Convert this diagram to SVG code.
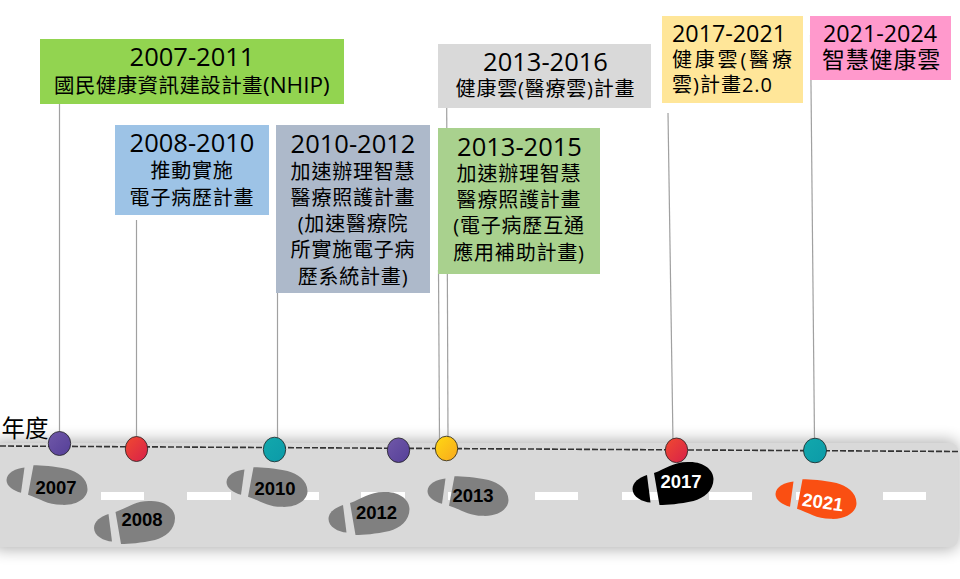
<svg xmlns="http://www.w3.org/2000/svg" width="960" height="579" viewBox="0 0 960 579">
<style>
text{font-family:"Open Sans","Noto Sans CJK TC",sans-serif;fill:#000;text-anchor:middle}
.y{font-size:25.500px}
.y2{font-size:23.300px}
.t{font-size:20px;letter-spacing:.8px}
.yr{font-family:"Liberation Sans",sans-serif;font-weight:700;font-size:18.500px}
.c{stroke:#a0a0a0;stroke-width:1.200;fill:none}
.n{stroke:#222;stroke-width:.8}
.d{fill:#fff}
</style>
<defs>
<filter id="sh" x="-5%" y="-40%" width="110%" height="180%"><feGaussianBlur stdDeviation="8"/></filter>
<linearGradient id="gp" x1="0" y1="0" x2="1" y2="1"><stop offset="0" stop-color="#7058a8"/><stop offset="1" stop-color="#553f98"/></linearGradient>
<linearGradient id="gr" x1="0" y1="0" x2="1" y2="1"><stop offset="0" stop-color="#f04a30"/><stop offset="1" stop-color="#d8204a"/></linearGradient>
<linearGradient id="gt" x1="0" y1="0" x2="1" y2="1"><stop offset="0" stop-color="#12a8ac"/><stop offset="1" stop-color="#0c9aa8"/></linearGradient>
<linearGradient id="gy" x1="0" y1="0" x2="1" y2="1"><stop offset="0" stop-color="#ffd912"/><stop offset="1" stop-color="#f8a81e"/></linearGradient>
<g id="shoe">
<path d="M-19.500,-10C-8,-14 0,-21 14,-21C30,-22 40,-13 40,-4C40,8 30,15 20,18C6,21 -6,22 -14,22Z"/>
<path d="M-26.500,-8L-23,19.600C-31,19 -41,14 -41,6C-41,-1 -34,-5.500 -26.500,-8Z"/>
</g>
</defs>

<g id="road">
<rect x="-8" y="441" width="966" height="108" rx="8" fill="#000" opacity=".32" filter="url(#sh)"/>
<rect x="-8" y="443" width="966" height="104" rx="8" fill="#d9d9d9"/>
<g class="d">
<rect x="101" y="492" width="43" height="8"/><rect x="187" y="492" width="44" height="8"/><rect x="275" y="492" width="44" height="8"/><rect x="361" y="492" width="44" height="8"/><rect x="448" y="492" width="44" height="8"/><rect x="535" y="492" width="43" height="8"/><rect x="622" y="492" width="43" height="8"/><rect x="709" y="492" width="43" height="8"/><rect x="796" y="492" width="43" height="8"/><rect x="883" y="492" width="43" height="8"/>
</g>
</g>

<g id="footprints">
<use href="#shoe" transform="translate(47.500,485.500) scale(1,-.92)" fill="#808080"/>
<use href="#shoe" transform="translate(135,522)" fill="#808080"/>
<use href="#shoe" transform="translate(267.500,487.500) scale(1,-.92)" fill="#808080"/>
<use href="#shoe" transform="translate(369.500,513)" fill="#808080"/>
<use href="#shoe" transform="translate(468.500,496.500) scale(1,-.92)" fill="#808080"/>
<use href="#shoe" transform="translate(673.500,483)" fill="#000"/>
<use href="#shoe" transform="translate(816.500,499.500) scale(1,-.92)" fill="#fa4f12"/>
<text class="yr" x="56" y="494">2007</text>
<text class="yr" x="142" y="526">2008</text>
<text class="yr" x="275" y="495">2010</text>
<text class="yr" x="376.500" y="519">2012</text>
<text class="yr" x="473" y="502">2013</text>
<text class="yr" x="681" y="488" style="fill:#fff">2017</text>
<text class="yr" x="0" y="0" transform="translate(822,508.500) rotate(8)" style="fill:#fff">2021</text>
</g>

<g id="connectors">
<path class="c" d="M59.500,100L59.500,436"/>
<path class="c" d="M136.500,220L136.500,440"/>
<path class="c" d="M277.500,290L277.500,440"/>
<path class="c" d="M438.500,270L439.500,440"/>
<path class="c" d="M446.700,105L448,440"/>
<path class="c" d="M668,113L673,442"/>
<path class="c" d="M810.500,35L814.500,440"/>
<path d="M0,446L960,451.500" stroke="#333" stroke-width="1.600" stroke-dasharray="6 2" fill="none"/>
</g>

<g id="dots">
<ellipse class="n" cx="59.500" cy="443.500" rx="11.200" ry="12" fill="url(#gp)"/>
<ellipse class="n" cx="136.500" cy="449" rx="11.200" ry="12.500" fill="url(#gr)"/>
<ellipse class="n" cx="274.500" cy="449.500" rx="11.200" ry="12.300" fill="url(#gt)"/>
<ellipse class="n" cx="398.500" cy="450.200" rx="11.200" ry="12.300" fill="url(#gp)"/>
<ellipse class="n" cx="446.500" cy="448.500" rx="11.200" ry="12.300" fill="url(#gy)"/>
<ellipse class="n" cx="676.500" cy="450.300" rx="11.200" ry="12.300" fill="url(#gr)"/>
<ellipse class="n" cx="815" cy="450.500" rx="11.500" ry="12.300" fill="url(#gt)"/>
</g>

<text id="axis-label" x="25" y="437" style="font-size:23.500px">年度</text>

<g id="n2007-2011">
<rect x="40" y="39" width="304" height="65" fill="#92d450"/>
<text class="y" x="192" y="66">2007-2011</text>
<text x="54" y="93" style="font-size:20.500px;text-anchor:start"><tspan style="letter-spacing:.4px">國民健康資訊建設計畫</tspan><tspan style="font-size:22.500px">(NHIP)</tspan></text>
</g>
<g id="n2008-2010">
<rect x="115" y="125" width="154" height="90" fill="#9dc3e6"/>
<text class="y" x="192" y="152">2008-2010</text>
<text class="t" x="192" y="178">推動實施</text>
<text class="t" x="192" y="205">電子病歷計畫</text>
</g>
<g id="n2010-2012">
<rect x="276" y="125" width="154" height="168" fill="#adb9ca"/>
<text class="y" x="353" y="153">2010-2012</text>
<text class="t" x="353" y="179">加速辦理智慧</text>
<text class="t" x="353" y="205">醫療照護計畫</text>
<text class="t" x="353" y="231">(加速醫療院</text>
<text class="t" x="353" y="257">所實施電子病</text>
<text class="t" x="353" y="284">歷系統計畫)</text>
</g>
<g id="n2013-2016">
<rect x="438" y="44" width="213" height="64" fill="#d9d9d9"/>
<text class="y" x="545.500" y="71">2013-2016</text>
<text class="t" x="545.500" y="96">健康雲(醫療雲)計畫</text>
</g>
<g id="n2013-2015">
<rect x="438" y="128" width="162" height="146" fill="#a9d18e"/>
<text class="y" x="519.500" y="156">2013-2015</text>
<text class="t" x="519" y="181">加速辦理智慧</text>
<text class="t" x="519" y="207">醫療照護計畫</text>
<text class="t" x="519" y="233">(電子病歷互通</text>
<text class="t" x="519" y="260">應用補助計畫)</text>
</g>
<g id="n2017-2021">
<rect x="662" y="16" width="141" height="87" fill="#ffe699"/>
<text class="y2" x="672" y="42" style="text-anchor:start">2017-2021</text>
<text class="t" x="672" y="67" style="text-anchor:start;letter-spacing:2.800px">健康雲(醫療</text>
<text class="t" x="672" y="92" style="text-anchor:start;letter-spacing:1px">雲)計畫2.0</text>
</g>
<g id="n2021-2024">
<rect x="810" y="16" width="141" height="64" fill="#ff99cc"/>
<text class="y2" x="880" y="42">2021-2024</text>
<text class="t" x="881.500" y="68" style="font-size:23px">智慧健康雲</text>
</g>
</svg>
